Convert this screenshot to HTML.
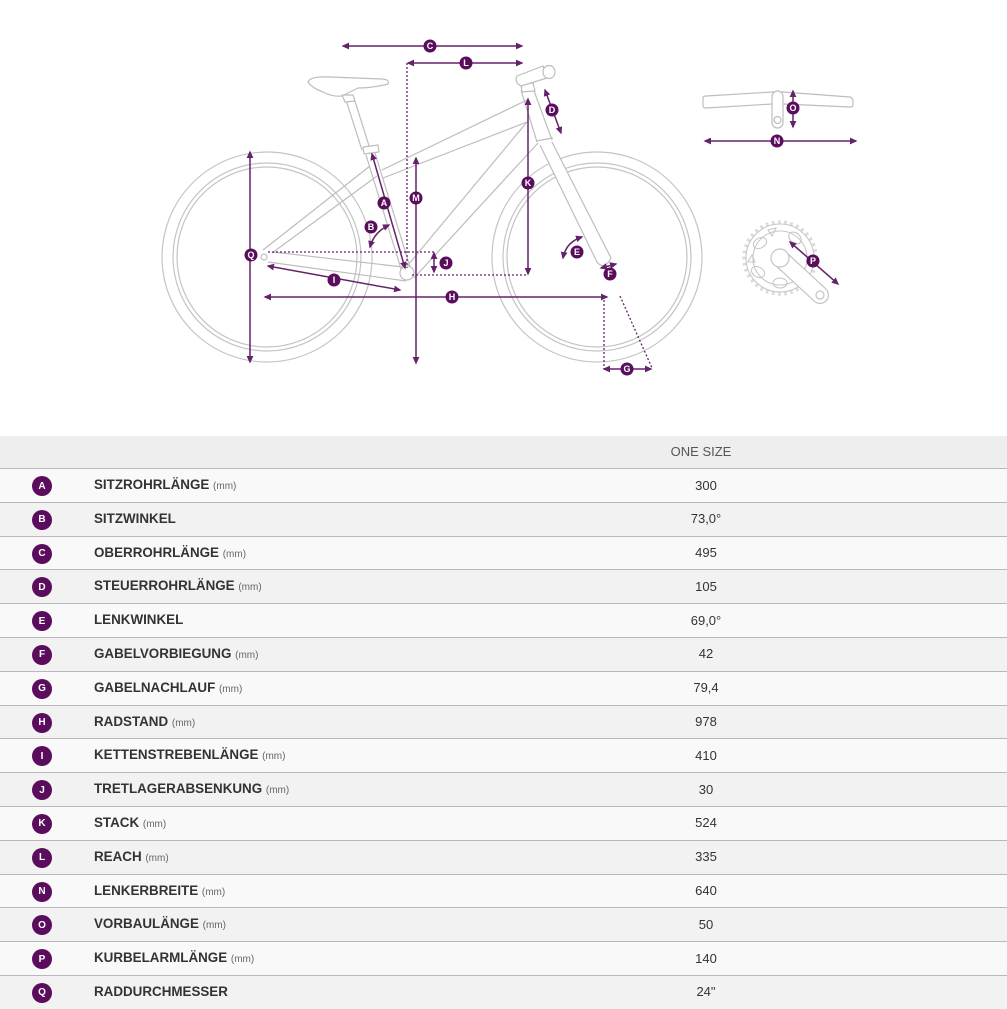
<!DOCTYPE html>
<html><head><meta charset="utf-8">
<style>
html,body{margin:0;padding:0;background:#fff;}
body{width:1007px;height:1007px;position:relative;overflow:hidden;font-family:"Liberation Sans",Arial,sans-serif;}
.hdr{position:absolute;left:0;top:436px;width:1007px;height:32px;background:#eeeeee;}
.hdr span{position:absolute;left:601px;width:200px;text-align:center;top:8px;font-size:13px;color:#555;}
.rows{position:absolute;left:0;top:468px;width:1007px;}
.row{position:relative;height:33.8px;box-sizing:border-box;border-top:1px solid #b8b8b8;background:#f9f9f9;}
.row:nth-child(even){background:#f2f2f2;}
.b{position:absolute;left:32px;top:7px;width:20px;height:20px;border-radius:50%;background:#5a0d5c;color:#fff;font-weight:bold;font-size:10px;display:flex;align-items:center;justify-content:center;line-height:1;}
.b span{position:relative;top:0.5px;}
.l{position:absolute;left:94px;top:8px;font-weight:bold;font-size:13.4px;color:#333;white-space:nowrap;}
.l small{font-weight:normal;font-size:10px;color:#666;}
.v{position:absolute;left:606px;width:200px;text-align:center;top:8.5px;font-size:13px;color:#333;}
</style></head><body>
<svg width="1007" height="436" style="position:absolute;left:0;top:0" xmlns="http://www.w3.org/2000/svg">
<defs>
<marker id="ah" viewBox="0 0 10 10" refX="8" refY="5" markerWidth="5" markerHeight="5" orient="auto-start-reverse"><path d="M0,0.5 L10,5 L0,9.5 z" fill="#64226a"/></marker>
</defs>
<g fill="none" stroke="#c4c4c4" stroke-width="1.2">
<circle cx="267" cy="257" r="105"/>
<circle cx="267" cy="257" r="94"/>
<circle cx="267" cy="257" r="90"/>
<circle cx="597" cy="257" r="105"/>
<circle cx="597" cy="257" r="94"/>
<circle cx="597" cy="257" r="90"/>
</g>
<g fill="#fff" stroke="#bdbdbd" stroke-width="1.2" stroke-linejoin="round">
<path d="M263,250 L370,166 M272,253 L377,176"/>
<path d="M273,252 L403,267 M268,262 L406,281"/>
<path d="M411,270 L375,153 M402,272 L366,155"/>
<path d="M362,150 L346,100 M370,149 L354,98"/>
<path d="M363,147 L378,145 L379,152 L364,154 Z"/>
<path d="M308,82 Q310,76 330,77 L383,79 Q390,80 388,84 Q372,88 358,88 L342,96 Q332,97 323,92 Q312,88 308,82 Z"/>
<path d="M342,95 L353,95 L355,101 L345,102 Z"/>
<path d="M382,170 L527,100 M383,178 L527,122"/>
<path d="M527,122 L408,265 M538,143 L414,278"/>
<path d="M521,90 L537,142 M533,88 L552,140"/>
<path d="M536,141 L553,138"/>
<path d="M540,145 L597,262 Q604,271 611,258 L552,142"/>
<path d="M521,84 L533,83 L535,91 L522,92 Z"/>
<path d="M517,76 L543,66 L547,78 L521,86 Q514,82 517,76 Z"/>
<ellipse cx="549" cy="72" rx="6" ry="6.5"/>
<circle cx="407" cy="273" r="7"/>
<circle cx="264" cy="257" r="3"/>
<path d="M703,98 Q703,96 706,96 L772,92 L783,92 L850,97 Q853,98 853,101 L853,105 Q853,107 850,107 L783,104 L772,104 L706,108 Q703,108 703,106 Z"/>
<rect x="772" y="91" width="11" height="37" rx="5.5"/>
<circle cx="777.5" cy="120" r="3.5"/>
</g>
<g fill="none" stroke="#c8c8c8" stroke-width="1.1">
<circle cx="780" cy="258" r="36" stroke="#dadada" stroke-width="3.5" stroke-dasharray="2.6 3.6"/>
<circle cx="780" cy="258" r="34"/>
<circle cx="780" cy="258" r="27"/>
<ellipse cx="760" cy="243" rx="7" ry="5" transform="rotate(-30 760 243)"/>
<ellipse cx="795" cy="238" rx="7" ry="5" transform="rotate(40 795 238)"/>
<ellipse cx="758" cy="272" rx="7" ry="5" transform="rotate(30 758 272)"/>
<ellipse cx="780" cy="283" rx="7" ry="5"/>
<path d="M768,230 L776,228 L772,236 Z M752,255 L755,262 L748,262 Z M790,270 L796,276 L790,278 Z"/>
</g>
<line x1="780" y1="258" x2="820" y2="295" stroke="#c4c4c4" stroke-width="18" stroke-linecap="round"/>
<line x1="780" y1="258" x2="820" y2="295" stroke="#fff" stroke-width="15.6" stroke-linecap="round"/>
<circle cx="780" cy="258" r="9" fill="#fff" stroke="#c4c4c4" stroke-width="1.2"/>
<circle cx="820" cy="295" r="4" fill="#fff" stroke="#c4c4c4" stroke-width="1.2"/>
<g fill="none" stroke="#64226a" stroke-width="1.3" stroke-dasharray="2 2">
<path d="M407,63 V268"/>
<path d="M412,275 H528"/>
<path d="M268,252 H434"/>
<path d="M604,300 V369"/>
<path d="M620,296 L652,368"/>
</g>
<g fill="none" stroke="#64226a" stroke-width="1.5" marker-start="url(#ah)" marker-end="url(#ah)">
<path d="M343,46 H522"/>
<path d="M408,63 H522"/>
<path d="M545,90 L561,133"/>
<path d="M528,99 V274"/>
<path d="M416,158 V363"/>
<path d="M372,154 L405,268"/>
<path d="M250,152 V362"/>
<path d="M434,253 V272"/>
<path d="M268,266 L400,290"/>
<path d="M265,297 H607"/>
<path d="M604,369 H651"/>
<path d="M705,141 H856"/>
<path d="M793,91 V127"/>
<path d="M790,242 L838,284"/>
<path d="M370,247 Q374,232 389,225"/>
<path d="M563,258 Q566,242 582,237"/>
<path d="M601,268 L616,264"/>
</g>
<g font-family="Liberation Sans, Arial, sans-serif" font-weight="bold" font-size="9" fill="#fff" text-anchor="middle">
<g fill="#5a0d5c">
<circle cx="430" cy="46" r="6.5"/><circle cx="466" cy="63" r="6.5"/><circle cx="552" cy="110" r="6.5"/>
<circle cx="528" cy="183" r="6.5"/><circle cx="416" cy="198" r="6.5"/><circle cx="384" cy="203" r="6.5"/>
<circle cx="371" cy="227" r="6.5"/><circle cx="251" cy="255" r="6.5"/><circle cx="446" cy="263" r="6.5"/>
<circle cx="334" cy="280" r="6.5"/><circle cx="452" cy="297" r="6.5"/><circle cx="577" cy="252" r="6.5"/>
<circle cx="610" cy="274" r="6.5"/><circle cx="627" cy="369" r="6.5"/><circle cx="793" cy="108" r="6.5"/>
<circle cx="777" cy="141" r="6.5"/><circle cx="813" cy="261" r="6.5"/>
</g>
<text x="430" y="49.2">C</text><text x="466" y="66.2">L</text><text x="552" y="113.2">D</text>
<text x="528" y="186.2">K</text><text x="416" y="201.2">M</text><text x="384" y="206.2">A</text>
<text x="371" y="230.2">B</text><text x="251" y="258.2">Q</text><text x="446" y="266.2">J</text>
<text x="334" y="283.2">I</text><text x="452" y="300.2">H</text><text x="577" y="255.2">E</text>
<text x="610" y="277.2">F</text><text x="627" y="372.2">G</text><text x="793" y="111.2">O</text>
<text x="777" y="144.2">N</text><text x="813" y="264.2">P</text>
</g>
</svg>

<div class="hdr"><span>ONE SIZE</span></div>
<div class="rows">
<div class="row"><div class="b"><span>A</span></div><div class="l">SITZROHRLÄNGE <small>(mm)</small></div><div class="v">300</div></div>
<div class="row"><div class="b"><span>B</span></div><div class="l">SITZWINKEL</div><div class="v">73,0°</div></div>
<div class="row"><div class="b"><span>C</span></div><div class="l">OBERROHRLÄNGE <small>(mm)</small></div><div class="v">495</div></div>
<div class="row"><div class="b"><span>D</span></div><div class="l">STEUERROHRLÄNGE <small>(mm)</small></div><div class="v">105</div></div>
<div class="row"><div class="b"><span>E</span></div><div class="l">LENKWINKEL</div><div class="v">69,0°</div></div>
<div class="row"><div class="b"><span>F</span></div><div class="l">GABELVORBIEGUNG <small>(mm)</small></div><div class="v">42</div></div>
<div class="row"><div class="b"><span>G</span></div><div class="l">GABELNACHLAUF <small>(mm)</small></div><div class="v">79,4</div></div>
<div class="row"><div class="b"><span>H</span></div><div class="l">RADSTAND <small>(mm)</small></div><div class="v">978</div></div>
<div class="row"><div class="b"><span>I</span></div><div class="l">KETTENSTREBENLÄNGE <small>(mm)</small></div><div class="v">410</div></div>
<div class="row"><div class="b"><span>J</span></div><div class="l">TRETLAGERABSENKUNG <small>(mm)</small></div><div class="v">30</div></div>
<div class="row"><div class="b"><span>K</span></div><div class="l">STACK <small>(mm)</small></div><div class="v">524</div></div>
<div class="row"><div class="b"><span>L</span></div><div class="l">REACH <small>(mm)</small></div><div class="v">335</div></div>
<div class="row"><div class="b"><span>N</span></div><div class="l">LENKERBREITE <small>(mm)</small></div><div class="v">640</div></div>
<div class="row"><div class="b"><span>O</span></div><div class="l">VORBAULÄNGE <small>(mm)</small></div><div class="v">50</div></div>
<div class="row"><div class="b"><span>P</span></div><div class="l">KURBELARMLÄNGE <small>(mm)</small></div><div class="v">140</div></div>
<div class="row"><div class="b"><span>Q</span></div><div class="l">RADDURCHMESSER</div><div class="v">24"</div></div>
</div>
</body></html>
